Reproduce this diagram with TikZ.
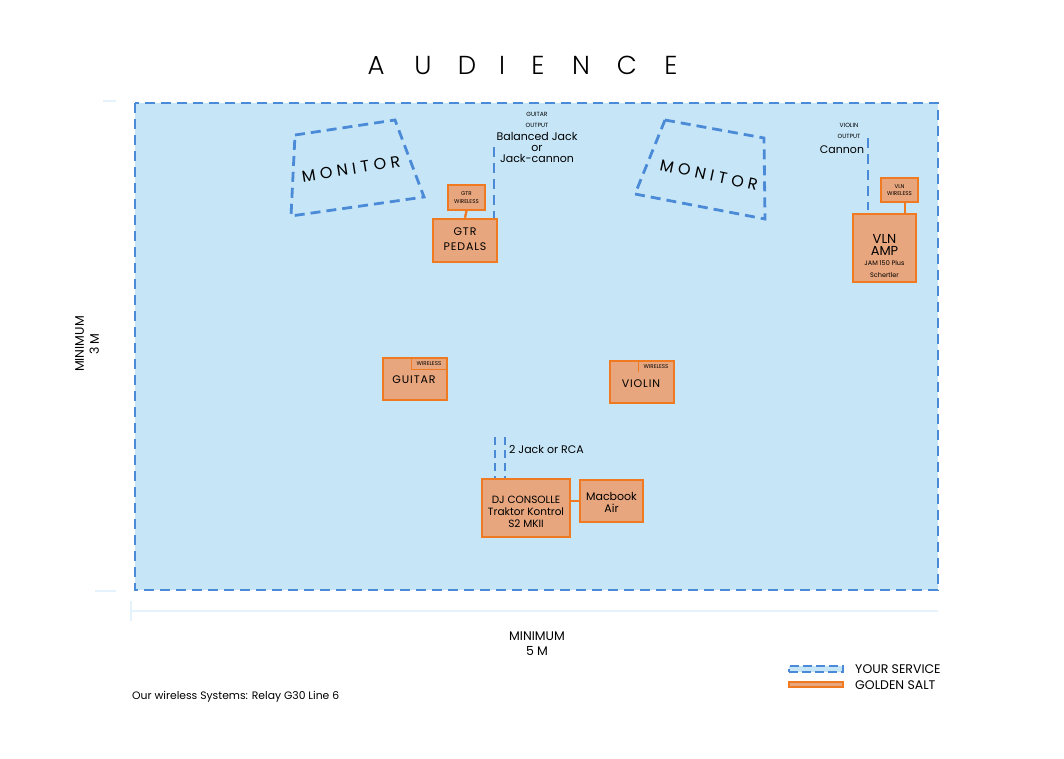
\documentclass[tikz,border=0pt]{standalone}
\usepackage{fontspec}
\setmainfont{Poppins}
\IfFontExistsTF{Poppins Light}{\newfontfamily\titlefont{Poppins Light}}{\newfontfamily\titlefont{Poppins}}
\definecolor{bgblue}{HTML}{C6E6F8}
\definecolor{dashblue}{HTML}{4A8AD6}
\definecolor{orng}{HTML}{F07A22}
\definecolor{salmon}{HTML}{E8A67E}
\definecolor{faint}{HTML}{E4F2FB}
\tikzset{
 svc/.style={draw=dashblue, line width=2.8pt, dash pattern=on 10pt off 6pt},
 gear/.style={draw=orng, fill=salmon, line width=2.4pt, inner sep=0pt, align=center, font=\fontsize{11}{17}\selectfont\addfontfeature{LetterSpace=8}},
 smallgear/.style={draw=orng, fill=salmon, line width=1.8pt, inner sep=0pt, align=center, font=\fontsize{5.5}{7.5}\selectfont},
 lbl/.style={inner sep=0pt, align=center},
 tinylbl/.style={inner sep=0pt, align=center, font=\fontsize{6}{10.5}\selectfont},
 link/.style={draw=orng, line width=2.4pt},
}
\begin{document}
\begin{tikzpicture}[x=1pt,y=-1pt]
\useasboundingbox (0,0) rectangle (1064,758);
\fill[white] (0,0) rectangle (1064,758);
% faint dimension marks
\draw[faint, line width=1.5pt] (103,101) -- (116,101);
\draw[faint, line width=1.5pt] (95,591) -- (116,591);
\draw[faint, line width=1.2pt] (131,611) -- (938,611);
\draw[faint, line width=1.5pt] (131,601) -- (131,621);
% stage area
\path[fill=bgblue] (135,103) rectangle (938,590);
\draw[svc] (135,103) rectangle (938,590);
% title
\foreach \l/\x in {A/376,U/423,D/467,I/502,E/538,N/581,C/627,E/671}
  \node[lbl, anchor=base, font=\titlefont\fontsize{26}{26}\selectfont] (t\x) at (\x,74) {\l};
% monitors
\draw[svc] (295,135) -- (395,120) -- (424,197) -- (291,216) -- cycle;
\node[lbl, rotate=9, font=\fontsize{16}{16}\selectfont\addfontfeature{LetterSpace=28}] (mon1) at (351,169) {MONITOR};
\draw[svc] (665,120) -- (764,138) -- (765,219) -- (635,194) -- cycle;
\node[lbl, rotate=-12, font=\fontsize{16}{16}\selectfont\addfontfeature{LetterSpace=28}] (mon2) at (709,175) {MONITOR};
% guitar output
\node[tinylbl] (gol) at (537,120) {GUITAR\\OUTPUT};
\node[lbl, font=\fontsize{11}{11}\selectfont] (gcab) at (537,147) {Balanced Jack\\or\\Jack-cannon};
% violin output
\node[tinylbl] (vol) at (849,131) {VIOLIN\\OUTPUT};
\node[lbl, font=\fontsize{11}{11}\selectfont] (vcab) at (842,150) {Cannon};
% gear
\node[gear, minimum width=64pt, minimum height=43pt] (gp) at (465,240.5) {};
\node[lbl, font=\fontsize{11}{15.5}\selectfont\addfontfeature{LetterSpace=8}] (gpt) at (465,239) {GTR\\PEDALS};
\node[smallgear, minimum width=37pt, minimum height=25pt] (gw) at (466.5,197.5) {GTR\\WIRELESS};
\node[gear, minimum width=63pt, minimum height=68pt] (va) at (884.5,248) {};
\node[lbl] (vat) at (884.5,256) {\fontsize{13}{15}\selectfont VLN\\\fontsize{13}{14}\selectfont AMP\\[-2pt]\fontsize{6.5}{10}\selectfont JAM 150 Plus\\\fontsize{6.5}{10}\selectfont Schertler};
\node[smallgear, minimum width=37pt, minimum height=24pt] (vw) at (899.5,190) {VLN\\WIRELESS};
\node[gear, minimum width=64pt, minimum height=42pt] (gt) at (415,379) {};
\node[lbl, font=\fontsize{11}{11}\selectfont\addfontfeature{LetterSpace=8}] (gtt) at (414,379.5) {GUITAR};
\node[gear, minimum width=64pt, minimum height=42pt] (vl) at (642,382) {};
\node[lbl, font=\fontsize{11}{11}\selectfont\addfontfeature{LetterSpace=8}] (vlt) at (641,383.5) {VIOLIN};
\node[gear, minimum width=88pt, minimum height=58pt] (dj) at (526,508) {};
\node[lbl, font=\fontsize{10.5}{12}\selectfont] (djt) at (526,512) {DJ CONSOLLE\\Traktor Kontrol\\S2 MKII};
\node[gear, minimum width=63pt, minimum height=42pt] (mb) at (611.5,501) {};
\node[lbl, font=\fontsize{11}{12}\selectfont] (mbt) at (611.5,502) {Macbook\\Air};
% wireless tags
\draw[orng, line width=0.9pt] (411,358) -- (411,369) -- (446,369);
\node[lbl, font=\fontsize{5.5}{6}\selectfont] (gtw) at (429,363.5) {WIRELESS};
\draw[orng, line width=0.9pt] (638,361) -- (638,372);
\node[lbl, font=\fontsize{5.5}{6}\selectfont] (vlw) at (656,366.5) {WIRELESS};
% connectors
\draw[link] (gw.south) -- (gp.north);
\draw[link] ([xshift=5.5pt]vw.south) -- ([xshift=5.5pt]vw.south |- va.north);
\draw[link] (mb.west -| dj.east) -- (mb.west);
\coordinate (gout) at (494,147);
\draw[svc] (gout) -- (gout |- gp.north);
\coordinate (vout) at (868,138);
\draw[svc] (vout) -- (868,210);
\coordinate (dja) at (495,437);
\coordinate (djb) at (505,437);
\draw[svc, dash pattern=on 8pt off 5pt] (dja) -- (dja |- dj.north);
\draw[svc, dash pattern=on 8pt off 5pt] (djb) -- (djb |- dj.north);
\node[lbl, anchor=west, font=\fontsize{11}{11}\selectfont] (djc) at (509,449) {2 Jack or RCA};
% dimensions
\node[lbl, rotate=90, font=\fontsize{12.5}{15}\selectfont] (min3) at (87,344) {MINIMUM\\3 M};
\node[lbl, font=\fontsize{12.5}{15}\selectfont] (min5) at (537,644) {MINIMUM\\5 M};
% legend
\node[draw=dashblue, fill=bgblue, dash pattern=on 9pt off 4pt, line width=2pt, minimum width=54pt, minimum height=6pt, inner sep=0pt] (leg1) at (815.5,668.5) {};
\node[draw=orng, fill=salmon, line width=2pt, minimum width=54pt, minimum height=5pt, inner sep=0pt] (leg2) at (815.5,684.5) {};
\node[lbl, anchor=west, font=\fontsize{12.5}{12.5}\selectfont] (leg1t) at (855,669) {YOUR SERVICE};
\node[lbl, anchor=west, font=\fontsize{12.5}{12.5}\selectfont] (leg2t) at (855,685) {GOLDEN SALT};
\node[lbl, anchor=west, font=\fontsize{10.8}{10.8}\selectfont] (note) at (132,697) {Our wireless Systems: Relay G30 Line 6};
\end{tikzpicture}
\end{document}
